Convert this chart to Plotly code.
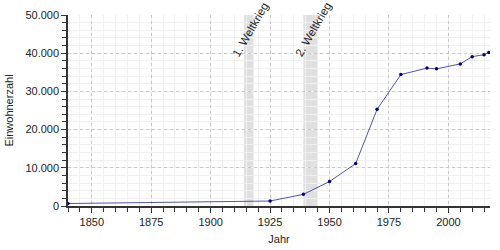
import plotly.graph_objects as go

years = [1840, 1925, 1939, 1950, 1961, 1970, 1980, 1991, 1995, 2005, 2010, 2015, 2017]
population = [650, 1300, 3050, 6400, 11100, 25300, 34400, 36100, 35900, 37200, 39100, 39600, 40200]

war_periods = [(1914, 1918), (1939, 1945)]
war_labels = ["1. Weltkrieg", "2. Weltkrieg"]
war_label_x = [1916.9, 1943.3]

x_ticks = [1850, 1875, 1900, 1925, 1950, 1975, 2000]
y_ticks = [0, 10000, 20000, 30000, 40000, 50000]

fig = go.Figure()

for (x0, x1) in war_periods:
    fig.add_shape(type="rect", xref="x", yref="paper", x0=x0, x1=x1, y0=0, y1=1,
                  fillcolor="#e0e0e0", line_width=0, layer="below")

for lbl, lx in zip(war_labels, war_label_x):
    fig.add_annotation(x=lx, y=46300, xref="x", yref="y", text=lbl, showarrow=False,
                       textangle=-60, font=dict(size=11.5, color="#222"))

fig.add_trace(go.Scatter(
    x=years, y=population, mode="lines+markers",
    line=dict(color="rgba(40,40,160,0.8)", width=1),
    marker=dict(color="#00007a", size=3.5),
    hoverinfo="skip", showlegend=False))

fig.update_layout(
    width=500, height=250,
    margin=dict(l=68, r=10, t=15, b=44),
    paper_bgcolor="white", plot_bgcolor="white",
    separators=",.",
    font=dict(family="Liberation Sans, Arial, sans-serif", size=11, color="#222"),
)

fig.update_xaxes(
    range=[1840, 2017.5], tickvals=x_ticks, ticks="outside", ticklen=5, tickcolor="#333",
    showline=True, linecolor="#333", linewidth=1.5, automargin=False,
    showgrid=True, gridcolor="#c8c8c8", griddash="dot", gridwidth=1,
    minor=dict(dtick=5, tick0=1840, ticks="outside", ticklen=4, tickcolor="#333",
               showgrid=True, gridcolor="#f0f0f0", gridwidth=1, griddash="solid"),
    title=dict(text="Jahr", font=dict(size=11), standoff=8),
    zeroline=False,
)
fig.update_yaxes(
    range=[0, 50000], tickvals=y_ticks, ticks="outside", ticklen=5, tickcolor="#333",
    tickformat=",d", automargin=False,
    showline=True, linecolor="#333", linewidth=1.5,
    showgrid=True, gridcolor="#c8c8c8", griddash="dot", gridwidth=1,
    minor=dict(dtick=2000, ticks="outside", ticklen=4, tickcolor="#333",
               showgrid=True, gridcolor="#f0f0f0", gridwidth=1, griddash="solid"),
    title=dict(text="Einwohnerzahl", font=dict(size=11), standoff=10),
    zeroline=False,
)

fig.write_html("out.html")
